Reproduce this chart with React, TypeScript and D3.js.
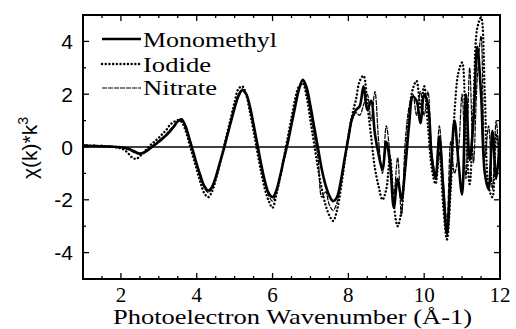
import * as d3 from 'd3';
import React, { useEffect, useRef } from 'react';

// photoelectron wavenumber grid (Å-1)
const kGrid = [
  1.0, 1.1, 1.2, 1.3, 1.4, 1.5, 1.6, 1.7, 1.8, 1.9,
  2.0, 2.1, 2.2, 2.3, 2.4, 2.5, 2.6, 2.7, 2.8, 2.9,
  3.0, 3.1, 3.2, 3.3, 3.4, 3.5, 3.6, 3.7, 3.8, 3.9,
  4.0, 4.1, 4.2, 4.3, 4.4, 4.5, 4.6, 4.7, 4.8, 4.9,
  5.0, 5.1, 5.2, 5.3, 5.4, 5.5, 5.6, 5.7, 5.8, 5.9,
  6.0, 6.1, 6.2, 6.3, 6.4, 6.5, 6.6, 6.7, 6.8, 6.9,
  7.0, 7.1, 7.2, 7.3, 7.4, 7.5, 7.6, 7.7, 7.8, 7.9,
  8.0, 8.1, 8.2, 8.3, 8.4, 8.5, 8.6, 8.7, 8.8, 8.9,
  9.0, 9.1, 9.2, 9.3, 9.4, 9.5, 9.6, 9.7, 9.8, 9.9,
  10.0, 10.1, 10.2, 10.3, 10.4, 10.5, 10.6, 10.7, 10.8, 10.9,
  11.0, 11.1, 11.2, 11.3, 11.4, 11.5, 11.6, 11.7, 11.8, 11.9,
  12.0,
];

const monomethyl = [
  0.06, 0.05, 0.04, 0.04, 0.03, 0.03, 0.02, 0.02, 0.01, 0.0,
  -0.01, -0.03, -0.07, -0.13, -0.2, -0.25, -0.22, -0.13, -0.02, 0.09,
  0.2, 0.32, 0.45, 0.6, 0.78, 0.97, 1.05, 0.8, 0.35, -0.15,
  -0.65, -1.1, -1.48, -1.65, -1.52, -1.15, -0.65, -0.15, 0.4, 0.95,
  1.48, 1.92, 2.15, 2.02, 1.55, 0.85, 0.1, -0.65, -1.3, -1.75,
  -1.9, -1.65, -1.1, -0.45, 0.15, 0.85, 1.55, 2.2, 2.55, 2.25,
  1.55, 0.75, -0.05, -0.85, -1.45, -1.85, -2.05, -1.9, -1.3, -0.45,
  0.35, 1.1, 1.4, 1.55, 2.3, 1.4, 1.75, 0.5, -0.3, -0.85,
  0.2, -0.65, -2.3, -1.2, -2.0, -0.8, 0.8, 1.9, 1.75, 0.9,
  2.0, 1.6, -0.4, -1.2, 0.4, -1.5, -3.3, -1.0, 1.0, -0.5,
  -1.8, 2.0, -0.5, 1.0, 3.8, 2.0, -1.0, -1.6, 0.6, -1.2,
  0.4,
];

const iodide = [
  0.08, 0.06, 0.05, 0.06, 0.04, 0.05, 0.03, 0.02, 0.0, -0.02,
  -0.05, -0.12, -0.25, -0.4, -0.45, -0.35, -0.2, -0.05, 0.1, 0.22,
  0.35, 0.5, 0.65, 0.85, 0.95, 1.02, 0.95, 0.65, 0.15, -0.35,
  -0.85, -1.35, -1.75, -1.9, -1.7, -1.25, -0.7, -0.1, 0.5, 1.1,
  1.7, 2.2, 2.3, 2.0, 1.35, 0.6, -0.2, -0.95, -1.6, -2.05,
  -2.3, -1.8, -1.15, -0.4, 0.35, 1.1, 1.85, 2.3, 2.4, 1.9,
  1.0, 0.1, -0.8, -1.6, -2.2, -2.6, -2.8, -2.4, -1.6, -0.6,
  0.4, 1.2, 1.8, 2.5, 2.7, 1.6, 0.4, -0.8, -1.5, -2.0,
  -1.6, -0.4, -2.2, -3.0, -2.4, -0.6, 1.2, 2.2, 2.5, 1.5,
  2.3, 0.8, -0.8, -1.4, -0.2, -2.2, -3.5, -1.6, 1.3, 2.8,
  3.2, 0.5, -1.4, 1.5, 4.5, 4.9, 2.0, -1.5, -1.9, 0.5,
  -0.8,
];

const nitrate = [
  0.05, 0.05, 0.05, 0.04, 0.04, 0.03, 0.03, 0.02, 0.01, 0.0,
  -0.02, -0.05, -0.1, -0.18, -0.24, -0.27, -0.2, -0.1, 0.02, 0.12,
  0.24, 0.36, 0.5, 0.66, 0.82, 0.98, 1.02, 0.75, 0.28, -0.22,
  -0.72, -1.18, -1.55, -1.72, -1.58, -1.2, -0.68, -0.12, 0.45, 1.0,
  1.55, 2.0, 2.2, 2.0, 1.5, 0.78, 0.02, -0.75, -1.4, -1.85,
  -2.05, -1.7, -1.12, -0.45, 0.22, 0.92, 1.62, 2.25, 2.5, 2.05,
  1.3, 0.45, -0.4, -1.9, -1.7, -2.2, -2.4, -2.1, -1.4, -0.5,
  0.3, 1.0, 1.3, 1.2, 1.6, 2.0, 1.0, 2.1, 0.2, -1.0,
  0.8, -0.3, -1.8, -0.4, -2.6, 0.2, 1.5, 2.0, 1.2, 2.1,
  1.2, 2.1, -0.2, -1.0, 0.8, -1.2, -2.8, 0.2, -1.0, -0.2,
  2.0, -1.2, 3.0, -0.6, 2.6, 4.2, -0.4, 0.8, -1.6, 1.0,
  -1.4,
];

const xTicks = [2, 4, 6, 8, 10, 12];
const yTicks = [-4, -2, 0, 2, 4];
const seriesNames = ['Monomethyl', 'Iodide', 'Nitrate'];

const W = 516;
const H = 329;
const plot = { left: 83, right: 500, top: 15, bottom: 279 };
const SERIF = "'Liberation Serif', 'Times New Roman', Times, 'DejaVu Serif', serif";
const SANS = "'Liberation Sans', Arial, Helvetica, sans-serif";

const styles = [
  { width: 2.6, dash: null, cap: 'butt' },
  { width: 2.4, dash: '0.1,3.6', cap: 'round' },
  { width: 1.2, dash: '5,1', cap: 'butt' },
];

export default function App() {
  const ref = useRef<SVGSVGElement | null>(null);

  useEffect(() => {
    const svg = d3.select(ref.current);
    svg.selectAll('*').remove();

    const x = d3.scaleLinear().domain([1, 12]).range([plot.left, plot.right]);
    const y = d3.scaleLinear().domain([-5, 5]).range([plot.bottom, plot.top]);

    svg.append('rect').attr('width', W).attr('height', H).attr('fill', '#fff');

    svg.append('defs').append('clipPath').attr('id', 'pc')
      .append('rect')
      .attr('x', plot.left).attr('y', plot.top)
      .attr('width', plot.right - plot.left).attr('height', plot.bottom - plot.top);

    // zero line
    svg.append('line')
      .attr('x1', plot.left).attr('x2', plot.right)
      .attr('y1', y(0)).attr('y2', y(0))
      .attr('stroke', '#000').attr('stroke-width', 1.6);

    const line = d3.line<number>()
      .x((_, i) => x(kGrid[i]))
      .y((d) => y(d))
      .curve(d3.curveCatmullRom.alpha(0.5));

    const g = svg.append('g').attr('clip-path', 'url(#pc)');
    [nitrate, iodide, monomethyl].forEach((s, j) => {
      const st = styles[2 - j];
      g.append('path')
        .attr('d', line(s))
        .attr('fill', 'none')
        .attr('stroke', '#000')
        .attr('stroke-width', st.width)
        .attr('stroke-linecap', st.cap)
        .attr('stroke-dasharray', st.dash);
    });

    // frame
    svg.append('rect')
      .attr('x', plot.left).attr('y', plot.top)
      .attr('width', plot.right - plot.left).attr('height', plot.bottom - plot.top)
      .attr('fill', 'none').attr('stroke', '#000').attr('stroke-width', 2);

    // ticks, inward on all four sides
    const xMinor = d3.range(1.5, 12, 0.5);
    const yMinor = d3.range(-5, 5.01, 1);
    const tk = svg.append('g').attr('stroke', '#000').attr('stroke-width', 1.3);
    xMinor.forEach((v) => {
      const len = xTicks.includes(v) ? 6 : 3;
      tk.append('line').attr('x1', x(v)).attr('x2', x(v)).attr('y1', plot.bottom).attr('y2', plot.bottom - len);
      tk.append('line').attr('x1', x(v)).attr('x2', x(v)).attr('y1', plot.top).attr('y2', plot.top + len);
    });
    yMinor.forEach((v) => {
      const len = yTicks.includes(v) ? 6 : 3;
      tk.append('line').attr('y1', y(v)).attr('y2', y(v)).attr('x1', plot.left).attr('x2', plot.left + len);
      tk.append('line').attr('y1', y(v)).attr('y2', y(v)).attr('x1', plot.right).attr('x2', plot.right - len);
    });

    // tick labels
    svg.append('g').selectAll('text').data(xTicks).enter().append('text')
      .attr('x', (d) => x(d)).attr('y', 302)
      .attr('text-anchor', 'middle')
      .attr('font-family', SERIF)
      .attr('font-size', 21)
      .text((d) => d);

    svg.append('g').selectAll('text').data(yTicks).enter().append('text')
      .attr('x', 73).attr('y', (d) => y(d) + 7.5)
      .attr('text-anchor', 'end')
      .attr('font-family', SANS)
      .attr('font-size', 21)
      .text((d) => d);

    // axis titles
    svg.append('text')
      .attr('x', 113).attr('y', 324)
      .attr('textLength', 359).attr('lengthAdjust', 'spacingAndGlyphs')
      .attr('font-family', SERIF)
      .attr('font-size', 21)
      .text('Photoelectron Wavenumber (Å-1)');

    const yl = svg.append('text')
      .attr('transform', 'translate(37,148) rotate(-90)')
      .attr('text-anchor', 'middle')
      .attr('font-family', SANS)
      .attr('font-size', 21);
    yl.append('tspan').text('χ(k)*k');
    yl.append('tspan').attr('dy', -9).attr('font-size', 14).text('3');

    // legend
    const ly = [39, 64, 88];
    const lb = [47, 72, 95];
    const lw = [134, 68, 74];
    seriesNames.forEach((name, i) => {
      const st = styles[i];
      svg.append('line')
        .attr('x1', 102).attr('x2', 141).attr('y1', ly[i]).attr('y2', ly[i])
        .attr('stroke', '#000').attr('stroke-width', st.width)
        .attr('stroke-linecap', st.cap).attr('stroke-dasharray', st.dash);
      svg.append('text')
        .attr('x', 143).attr('y', lb[i])
        .attr('textLength', lw[i]).attr('lengthAdjust', 'spacingAndGlyphs')
        .attr('font-family', SERIF)
        .attr('font-size', 22)
        .text(name);
    });
  }, []);

  return (
    <svg
      ref={ref}
      width={W}
      height={H}
      style={{ position: 'absolute', left: 0, top: 0 }}
    />
  );
}
